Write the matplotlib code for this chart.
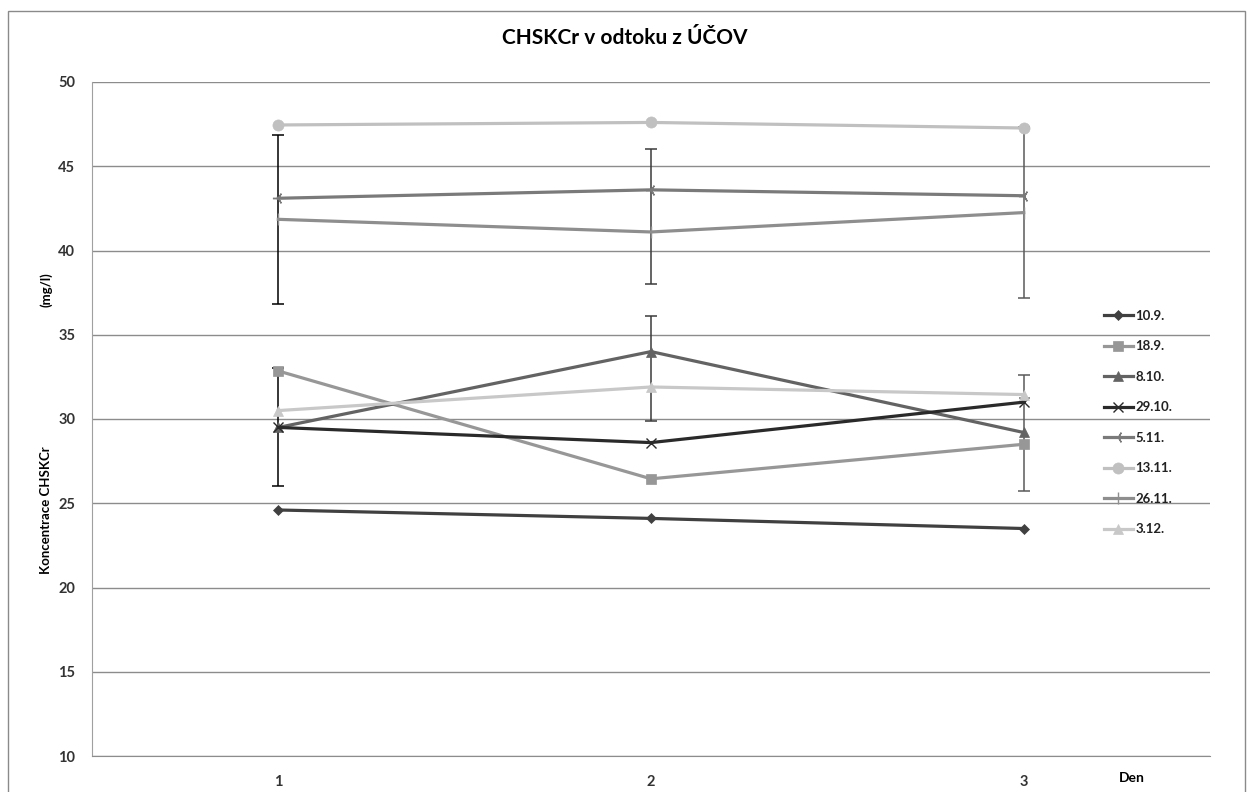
import numpy as np
import matplotlib.pyplot as plt
from matplotlib.patches import Rectangle

# data
dny = [1, 2, 3]
serie_nazvy = ["10.9.", "18.9.", "8.10.", "29.10.", "5.11.", "13.11.", "26.11.", "3.12."]
s_10_9 = [24.6, 24.1, 23.5]
s_18_9 = [32.85, 26.45, 28.5]
s_8_10 = [29.5, 34.0, 29.2]
s_29_10 = [29.5, 28.6, 31.0]
s_5_11 = [43.1, 43.6, 43.25]
s_13_11 = [47.45, 47.6, 47.27]
s_26_11 = [41.85, 41.1, 42.25]
s_3_12 = [30.5, 31.9, 31.45]

# error bars (low / high per day)
err_horni_lo = [36.8, 38.0, 37.2]
err_horni_hi = [46.85, 46.0, 47.3]
err_dolni_lo = [26.0, 29.9, 25.7]
err_dolni_hi = [33.0, 36.1, 32.6]

hodnoty = [s_10_9, s_18_9, s_8_10, s_29_10, s_5_11, s_13_11, s_26_11, s_3_12]
barvy = ["#404040", "#979797", "#636363", "#2a2a2a", "#7a7a7a", "#c0c0c0", "#8e8e8e", "#c8c8c8"]
znacky = ["D", "s", "^", "x", (3, 2, 90), "o", "|", "^"]
velikosti = [5.5, 7, 7, 7, 8, 8, 9, 6.5]
barvy_err = ["#000000", "#3a3a3a", "#5a5a5a"]

plt.rcParams['font.family'] = ['Lato', 'DejaVu Sans']

fig = plt.figure(figsize=(12.5, 7.92), dpi=100)
ax = fig.add_axes([92 / 1250, 1 - 756 / 792, (1210 - 92) / 1250, (756 - 82) / 792])

# okraj grafu
fig.patches.append(Rectangle((8 / 1250, -0.01), 1237 / 1250, 1 - 11 / 792 + 0.01,
                             transform=fig.transFigure, fill=False,
                             edgecolor="#8a8a8a", linewidth=1.0))

# chybove useky
for i, d in enumerate(dny):
    for lo, hi in [(err_horni_lo[i], err_horni_hi[i]), (err_dolni_lo[i], err_dolni_hi[i])]:
        stred = (lo + hi) / 2
        ax.errorbar([d], [stred], yerr=[[stred - lo], [hi - stred]], fmt="none",
                    ecolor=barvy_err[i], elinewidth=1.1, capsize=4, capthick=1.1, zorder=2)

for nazev, y, c, m, ms in zip(serie_nazvy, hodnoty, barvy, znacky, velikosti):
    tenka = m in ("x", "|") or isinstance(m, tuple)
    mew = 1.0 if tenka else 0.5
    ax.plot(dny, y, color=c, linewidth=2.3, marker=m, markersize=ms,
            markeredgecolor=c, markerfacecolor=c, markeredgewidth=mew,
            label=nazev, zorder=3)

ax.set_xlim(0.5, 3.5)
ax.set_ylim(10, 50)
ax.set_yticks(np.arange(10, 51, 5))
ax.set_xticks(dny)
ax.set_xticklabels([str(d) for d in dny])
ax.yaxis.grid(True, color="#8c8c8c", linewidth=1.0)
ax.set_axisbelow(True)
ax.tick_params(length=0, labelsize=10.5, pad=12)
ax.tick_params(axis="x", pad=14)
for lab in ax.get_xticklabels() + ax.get_yticklabels():
    lab.set_fontweight("bold")
    lab.set_color("#333333")
for s in ["top", "right"]:
    ax.spines[s].set_visible(False)
ax.spines["left"].set_color("#a0a0a0")
ax.spines["bottom"].set_color("#8c8c8c")

fig.text(0.5, 1 - 38 / 792, "CHSKCr v odtoku z ÚČOV", ha="center", va="center",
         fontsize=15, fontweight="bold")
fig.text(46 / 1250, 1 - 510 / 792, "Koncentrace CHSKCr", rotation=90, ha="center",
         va="center", fontsize=9.5, fontweight="bold")
fig.text(46 / 1250, 1 - 290 / 792, "(mg/l)", rotation=90, ha="center",
         va="center", fontsize=9.5, fontweight="bold")
fig.text(1132 / 1250, 1 - 778 / 792, "Den", ha="center", va="center",
         fontsize=10, fontweight="bold")

leg = ax.legend(loc="upper left", bbox_to_anchor=(1092 / 1250, 1 - 298 / 792),
                bbox_transform=fig.transFigure, frameon=False, fontsize=9.5,
                handlelength=2.2, handletextpad=0.2, labelspacing=1.4)
for t in leg.get_texts():
    t.set_fontweight("bold")
    t.set_color("#222222")

fig.savefig("out.png", dpi=100)
